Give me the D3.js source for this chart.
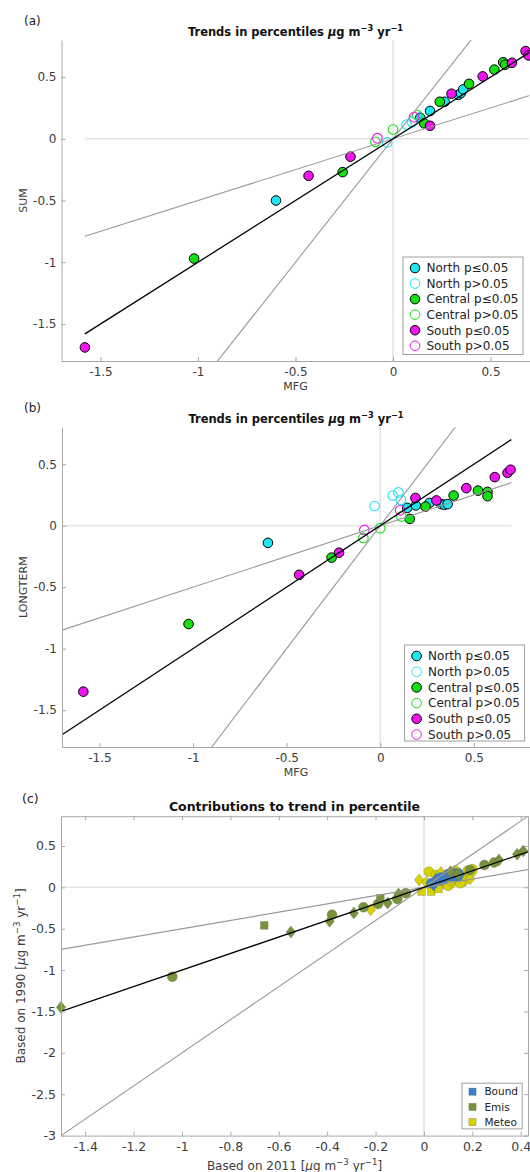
<!DOCTYPE html>
<html><head><meta charset="utf-8">
<script src="https://cdn.jsdelivr.net/npm/d3@7"></script>
<style>
body{margin:0;background:#fff}
svg{display:block}
text{font-family:"DejaVu Sans",sans-serif}
</style>
</head><body>
<svg id="chart" width="530" height="1172"></svg>
<script>
// ---------- Panel (a): MFG (x) vs SUM (y) ----------
const aNorthSig   = [[-0.60,-0.50],[0.14,0.17],[0.19,0.225],[0.265,0.30],[0.335,0.355],[0.348,0.37],[0.36,0.40]];
const aNorthNS    = [[-0.03,-0.03],[0.07,0.115],[0.097,0.135]];
const aCentralSig = [[-1.02,-0.97],[-0.258,-0.27],[0.16,0.125],[0.24,0.30],[0.39,0.445],[0.52,0.56],[0.565,0.62],[0.575,0.60]];
const aCentralNS  = [[-0.09,-0.025],[0.0,0.075],[0.125,0.19]];
const aSouthSig   = [[-1.58,-1.69],[-0.433,-0.30],[-0.218,-0.145],[0.19,0.105],[0.30,0.365],[0.46,0.505],[0.61,0.615],[0.68,0.71],[0.695,0.675]];
const aSouthNS    = [[-0.08,0.005],[0.108,0.175]];

// ---------- Panel (b): MFG (x) vs LONGTERM (y) ----------
const bNorthSig   = [[-0.60,-0.14],[0.144,0.145],[0.19,0.165],[0.263,0.185],[0.326,0.175],[0.344,0.17],[0.36,0.175]];
const bNorthNS    = [[-0.03,0.16],[0.067,0.245],[0.097,0.27],[0.11,0.21]];
const bCentralSig = [[-1.024,-0.80],[-0.26,-0.26],[0.158,0.055],[0.242,0.155],[0.392,0.245],[0.522,0.285],[0.573,0.275],[0.573,0.24]];
const bCentralNS  = [[-0.09,-0.10],[0.0,-0.02],[0.113,0.075]];
const bSouthSig   = [[-1.586,-1.35],[-0.433,-0.40],[-0.22,-0.22],[0.188,0.225],[0.30,0.205],[0.46,0.305],[0.612,0.395],[0.68,0.43],[0.696,0.455]];
const bSouthNS    = [[-0.085,-0.035],[0.106,0.125]];

const regionLabels = ["North p\u22640.05","North p>0.05","Central p\u22640.05","Central p>0.05","South p\u22640.05","South p>0.05"];

// ---------- Panel (c): Based on 2011 (x) vs Based on 1990 (y); [x, y, shape] ----------
const cEmis = [[-1.5,-1.45,"d"],[-1.04,-1.08,"c"],[-0.66,-0.46,"s"],[-0.55,-0.54,"d"],[-0.38,-0.33,"c"],[-0.39,-0.41,"d"],
  [-0.29,-0.31,"d"],[-0.25,-0.24,"c"],[-0.19,-0.2,"c"],[-0.18,-0.13,"s"],[-0.15,-0.19,"d"],[-0.11,-0.14,"c"],
  [-0.105,-0.08,"d"],[-0.075,-0.07,"c"],[0.11,0.19,"d"],[0.14,0.16,"d"],[0.19,0.21,"c"],[0.25,0.27,"c"],
  [0.29,0.3,"c"],[0.31,0.33,"d"],[0.385,0.4,"d"],[0.41,0.44,"d"]];
const cBound = [[0.03,0.05,"c"],[0.05,0.1,"d"],[0.07,0.12,"c"],[0.09,0.13,"d"],[0.1,0.16,"c"],[0.12,0.15,"d"],
  [0.13,0.17,"c"],[0.15,0.16,"d"],[0.06,0.07,"s"],[0.08,0.1,"c"],[0.11,0.12,"s"],[0.04,0.03,"d"],[0.14,0.13,"c"]];
const cMeteo = [[-0.22,-0.27,"d"],[-0.02,0.09,"d"],[0.02,0.19,"c"],[-0.01,-0.05,"s"],[0.03,-0.05,"s"],[0.05,0.15,"c"],
  [0.08,0.05,"d"],[0.1,0.02,"c"],[0.12,0.06,"d"],[0.14,0.1,"c"],[0.16,0.14,"c"],[0.18,0.2,"c"],[0.2,0.22,"c"],
  [0.2,0.18,"d"],[0.17,0.08,"d"],[0.15,0.05,"c"],[0.06,-0.02,"s"],[0.13,0.2,"c"],[0.07,0.18,"d"],[0.01,0.06,"d"],
  [0.11,0.08,"c"],[0.19,0.1,"d"]];
const contribLabels = ["Bound","Emis","Meteo"];

// tick values
const abTicks = [-1.5,-1,-0.5,0,0.5];
const cXTicks = [-1.4,-1.2,-1,-0.8,-0.6,-0.4,-0.2,0,0.2,0.4];
const cYTicks = [-3,-2.5,-2,-1.5,-1,-0.5,0,0.5];

// reference line slopes (1:2 and 2:1 gray; 1:1 black drawn separately)
const refSlopes = [0.5, 2];

// ---------------- drawing ----------------
const svg = d3.select("#chart");
const regionColors = ["#1ee6ef","#1ee6ef","#14e014","#14e014","#f014f0","#f014f0"];
const regionFilled = [true,false,true,false,true,false];
const contribColors = ["#3a80cc","#77933c","#d6d200"];
const axisCol = "#a8a8a8", txtCol = "#3c3c3c";
const fmt = d => String(+d.toFixed(2));

function rich(sel, parts, fs) {
  let shifted = false;
  parts.forEach(([t, k]) => {
    const ts = sel.append("tspan").text(t);
    if (k === "it") ts.attr("font-style","italic");
    if (k === "sup") { ts.attr("font-size", fs*0.72).attr("dy", -fs*0.42); shifted = true; }
    else if (shifted) { ts.attr("dy", fs*0.42); shifted = false; }
  });
}

function styleAxis(g, fs) {
  g.select(".domain").attr("stroke", axisCol);
  g.selectAll(".tick line").attr("stroke", axisCol);
  g.selectAll(".tick text").attr("fill", txtCol).attr("font-size", fs).attr("font-family","DejaVu Sans");
}

function diamondPath(cx, cy, w, h) {
  return `M${cx},${cy-h/2}L${cx+w/2},${cy}L${cx},${cy+h/2}L${cx-w/2},${cy}Z`;
}

function scatterPanel(cfg) {
  const g = svg.append("g");
  const x = d3.scaleLinear().domain(cfg.xd).range([cfg.l, cfg.r]);
  const y = d3.scaleLinear().domain(cfg.yd).range([cfg.b, cfg.t]);
  const cid = "clip" + cfg.id;
  svg.append("clipPath").attr("id", cid).append("rect")
    .attr("x", cfg.l).attr("y", cfg.t).attr("width", cfg.r - cfg.l).attr("height", cfg.b - cfg.t);

  const zl = g.append("g").attr("clip-path", `url(#${cid})`);
  zl.append("line").attr("x1", x(0)).attr("x2", x(0)).attr("y1", cfg.t).attr("y2", cfg.b)
    .attr("stroke", "#e3e3e3").attr("stroke-width", 1.5);
  zl.append("line").attr("x1", x(cfg.lineX[0])).attr("x2", x(cfg.lineX[1])).attr("y1", y(0)).attr("y2", y(0))
    .attr("stroke", "#e3e3e3").attr("stroke-width", 1.5);

  const pts = g.append("g");
  cfg.groups.forEach((arr, i) => {
    pts.selectAll(null).data(arr).enter().append("circle")
      .attr("cx", d => x(d[0])).attr("cy", d => y(d[1])).attr("r", 4.8)
      .attr("fill", regionFilled[i] ? regionColors[i] : "none")
      .attr("stroke", regionFilled[i] ? "#000" : regionColors[i])
      .attr("stroke-width", regionFilled[i] ? 1 : 1.1);
  });

  const rl = g.append("g").attr("clip-path", `url(#${cid})`);
  refSlopes.forEach(s => {
    rl.append("line").attr("x1", x(cfg.lineX[0])).attr("y1", y(s*cfg.lineX[0]))
      .attr("x2", x(cfg.lineX[1])).attr("y2", y(s*cfg.lineX[1]))
      .attr("stroke", "#999").attr("stroke-width", 1.1);
  });
  rl.append("line").attr("x1", x(cfg.lineX[0])).attr("y1", y(cfg.lineX[0]))
    .attr("x2", x(cfg.lineX[1])).attr("y2", y(cfg.lineX[1]))
    .attr("stroke", "#000").attr("stroke-width", 1.3);

  const ax = g.append("g").attr("transform", `translate(0,${cfg.b})`)
    .call(d3.axisBottom(x).tickValues(abTicks).tickFormat(fmt).tickSize(-4).tickSizeOuter(0).tickPadding(6));
  styleAxis(ax, 12);
  const ay = g.append("g").attr("transform", `translate(${cfg.l},0)`)
    .call(d3.axisLeft(y).tickValues(abTicks).tickFormat(fmt).tickSize(-4).tickSizeOuter(0).tickPadding(5));
  styleAxis(ay, 12);

  g.append("text").attr("x", 24).attr("y", cfg.t - 15).attr("font-size", 12).attr("fill", "#222").text(cfg.tag);
  const tt = g.append("text").attr("x", (cfg.l + cfg.r)/2).attr("y", cfg.t - 4).attr("text-anchor","middle")
    .attr("font-size", 11.5).attr("font-weight","bold").attr("fill","#111");
  rich(tt, [["Trends in percentiles ",""],["\u03bc","it"],["g m",""],["\u22123","sup"],[" yr",""],["\u22121","sup"]], 11.5);
  g.append("text").attr("x", (cfg.l + cfg.r)/2).attr("y", cfg.b + 29).attr("text-anchor","middle")
    .attr("font-size", 11).attr("fill", txtCol).text("MFG");
  g.append("text").attr("transform", `translate(27,${(cfg.t + cfg.b)/2}) rotate(-90)`).attr("text-anchor","middle")
    .attr("font-size", 11).attr("fill", txtCol).text(cfg.ylabel);

  const L = cfg.legend;
  const lg = g.append("g");
  lg.append("rect").attr("x", L.x).attr("y", L.y).attr("width", L.w).attr("height", L.h)
    .attr("fill", "#fff").attr("stroke", "#a0a0a0").attr("stroke-width", 1);
  regionLabels.forEach((lab, i) => {
    const yy = L.y + 11 + i * L.dy;
    lg.append("circle").attr("cx", L.x + 12).attr("cy", yy).attr("r", 4.8)
      .attr("fill", regionFilled[i] ? regionColors[i] : "none")
      .attr("stroke", regionFilled[i] ? "#000" : regionColors[i]).attr("stroke-width", 1);
    lg.append("text").attr("x", L.x + 23.5).attr("y", yy).attr("dy", "0.36em")
      .attr("font-size", 12).attr("fill", "#222").text(lab);
  });
}

scatterPanel({id:"a", tag:"(a)", ylabel:"SUM", xd:[-1.7,0.7], yd:[-1.8,0.8], l:61.5, r:529.5, t:40, b:361,
  lineX:[-1.58,0.7],
  groups:[aNorthSig,aNorthNS,aCentralSig,aCentralNS,aSouthSig,aSouthNS],
  legend:{x:403, y:257, w:120, h:97.5, dy:15.55}});

scatterPanel({id:"b", tag:"(b)", ylabel:"LONGTERM", xd:[-1.7,0.8], yd:[-1.8,0.8], l:62, r:530, t:427.3, b:747,
  lineX:[-1.7,0.7],
  groups:[bNorthSig,bNorthNS,bCentralSig,bCentralNS,bSouthSig,bSouthNS],
  legend:{x:404.6, y:645, w:120, h:96, dy:15.7}});

// ---------------- panel (c) ----------------
(function(){
  const l = 61, r = 528, t = 816.2, b = 1135.6;
  const xd = [-1.5, 0.43], yd = [-3, 0.86];
  const x = d3.scaleLinear().domain(xd).range([l, r]);
  const y = d3.scaleLinear().domain(yd).range([b, t]);
  const g = svg.append("g");
  svg.append("clipPath").attr("id","clipc").append("rect").attr("x", l).attr("y", t).attr("width", r-l).attr("height", b-t);
  const zl = g.append("g").attr("clip-path","url(#clipc)");
  zl.append("line").attr("x1", x(0)).attr("x2", x(0)).attr("y1", t).attr("y2", b).attr("stroke","#e3e3e3").attr("stroke-width",1.5);
  zl.append("line").attr("x1", l).attr("x2", r).attr("y1", y(0)).attr("y2", y(0)).attr("stroke","#e3e3e3").attr("stroke-width",1.5);

  const pts = g.append("g");
  // draw order: Meteo, Bound, Emis
  [[cMeteo,2],[cBound,0],[cEmis,1]].forEach(([arr, i]) => {
    arr.forEach(d => {
      const cx = x(d[0]), cy = y(d[1]);
      let el;
      if (d[2] === "c") el = pts.append("circle").attr("cx", cx).attr("cy", cy).attr("r", 5);
      else if (d[2] === "s") el = pts.append("rect").attr("x", cx-3.8).attr("y", cy-3.8).attr("width", 7.6).attr("height", 7.6);
      else el = pts.append("path").attr("d", diamondPath(cx, cy, 9.5, 12));
      el.attr("fill", contribColors[i]).attr("stroke", "#6a6a50").attr("stroke-opacity", 0.55).attr("stroke-width", 0.6);
    });
  });

  const rl = g.append("g").attr("clip-path","url(#clipc)");
  refSlopes.forEach(s => {
    rl.append("line").attr("x1", x(xd[0])).attr("y1", y(s*xd[0])).attr("x2", x(xd[1])).attr("y2", y(s*xd[1]))
      .attr("stroke","#999").attr("stroke-width",1.1);
  });
  rl.append("line").attr("x1", x(xd[0])).attr("y1", y(xd[0])).attr("x2", x(xd[1])).attr("y2", y(xd[1]))
    .attr("stroke","#000").attr("stroke-width",1.3);

  const ax = g.append("g").attr("transform",`translate(0,${b})`)
    .call(d3.axisBottom(x).tickValues(cXTicks).tickFormat(fmt).tickSize(-4).tickSizeOuter(0).tickPadding(7));
  styleAxis(ax, 12.5);
  const axT = g.append("g").attr("transform",`translate(0,${t})`)
    .call(d3.axisTop(x).tickValues(cXTicks).tickFormat("").tickSize(-4).tickSizeOuter(0));
  styleAxis(axT, 12.5);
  const ay = g.append("g").attr("transform",`translate(${l},0)`)
    .call(d3.axisLeft(y).tickValues(cYTicks).tickFormat(fmt).tickSize(-4).tickSizeOuter(0).tickPadding(5));
  styleAxis(ay, 12.5);
  const ayR = g.append("g").attr("transform",`translate(${r},0)`)
    .call(d3.axisRight(y).tickValues(cYTicks).tickFormat("").tickSize(-4).tickSizeOuter(0));
  styleAxis(ayR, 12.5);

  g.append("text").attr("x", 22).attr("y", 803).attr("font-size", 12.5).attr("fill","#222").text("(c)");
  g.append("text").attr("x", (l+r)/2).attr("y", t - 5).attr("text-anchor","middle")
    .attr("font-size", 12.5).attr("font-weight","bold").attr("fill","#111").text("Contributions to trend in percentile");
  const xl = g.append("text").attr("x", (l+r)/2).attr("y", 1170).attr("text-anchor","middle")
    .attr("font-size", 12).attr("fill", txtCol);
  rich(xl, [["Based on 2011 [",""],["\u03bc","it"],["g m",""],["\u22123","sup"],[" yr",""],["\u22121","sup"],["]",""]], 12);
  const yl = g.append("text").attr("transform", `translate(25,${(t+b)/2}) rotate(-90)`).attr("text-anchor","middle")
    .attr("font-size", 12).attr("fill", txtCol);
  rich(yl, [["Based on 1990 [",""],["\u03bc","it"],["g m",""],["\u22123","sup"],[" yr",""],["\u22121","sup"],["]",""]], 12);

  const lg = g.append("g");
  lg.append("rect").attr("x", 462).attr("y", 1083.2).attr("width", 60.2).attr("height", 45.7)
    .attr("fill","#fff").attr("stroke","#a0a0a0");
  contribLabels.forEach((lab, i) => {
    const yy = 1091.7 + i * 15.2;
    lg.append("rect").attr("x", 472.5-3.6).attr("y", yy-3.6).attr("width", 7.2).attr("height", 7.2)
      .attr("fill", contribColors[i]).attr("stroke","#6a6a50").attr("stroke-opacity",0.55).attr("stroke-width",0.6);
    lg.append("text").attr("x", 484.4).attr("y", yy).attr("dy","0.36em").attr("font-size", 10.5).attr("fill","#222").text(lab);
  });
})();
</script>
</body></html>
